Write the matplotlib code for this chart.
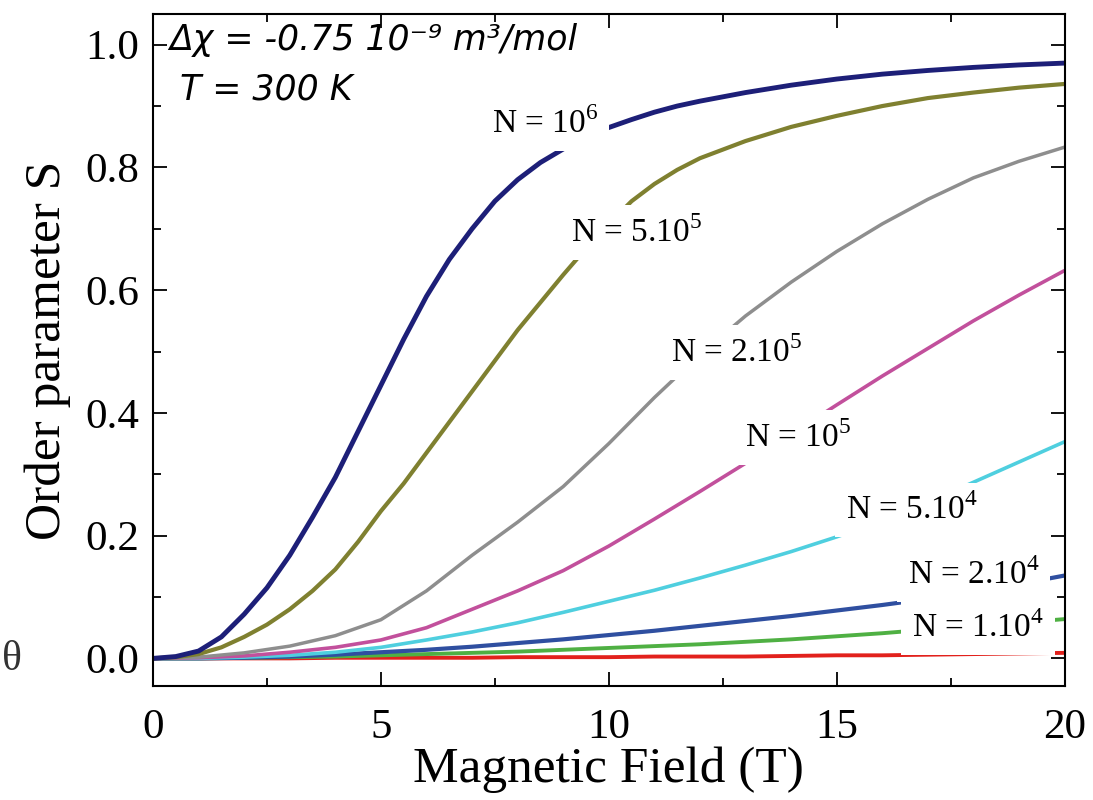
import matplotlib
matplotlib.use("Agg")
import matplotlib.pyplot as plt
from matplotlib.ticker import MultipleLocator, FormatStrFormatter

plt.rcParams['font.family'] = ['Liberation Serif', 'DejaVu Serif']
plt.rcParams['mathtext.fontset'] = 'custom'
plt.rcParams['mathtext.rm'] = 'Liberation Serif'

# Magnetic field (T) and order parameter S
field = [0, 1, 2, 3, 4, 5, 6, 7, 8, 9, 10, 11, 12, 13, 14, 15, 16, 17, 18, 19, 20]
# finer sampling for the two steep curves
field_fine = [0, 0.5, 1, 1.5, 2, 2.5, 3, 3.5, 4, 4.5, 5, 5.5, 6, 6.5, 7, 7.5, 8,
              8.5, 9, 9.5, 10, 10.5, 11, 11.5, 12, 13, 14, 15, 16, 17, 18, 19, 20]

s_1e6 = [0, 0.003, 0.012, 0.035, 0.072, 0.115, 0.168, 0.23, 0.295, 0.37, 0.445,
         0.52, 0.59, 0.65, 0.70, 0.745, 0.78, 0.808, 0.83, 0.85, 0.865, 0.878,
         0.89, 0.90, 0.908, 0.922, 0.934, 0.944, 0.952, 0.958, 0.963, 0.967, 0.970]
s_5e5 = [0, 0.002, 0.007, 0.018, 0.035, 0.055, 0.08, 0.11, 0.145, 0.19, 0.24,
         0.285, 0.335, 0.385, 0.435, 0.485, 0.535, 0.58, 0.625, 0.668, 0.708, 0.745,
         0.773, 0.796, 0.815, 0.843, 0.866, 0.884, 0.90, 0.913, 0.922, 0.930, 0.936]
s_2e5 = [0, 0.002, 0.009, 0.02, 0.037, 0.063, 0.11, 0.168, 0.222, 0.28, 0.35,
         0.425, 0.495, 0.558, 0.613, 0.663, 0.708, 0.748, 0.783, 0.81, 0.833]
s_1e5 = [0, 0.001, 0.004, 0.01, 0.018, 0.03, 0.05, 0.08, 0.11, 0.143, 0.183,
         0.227, 0.272, 0.318, 0.365, 0.413, 0.46, 0.505, 0.55, 0.592, 0.632]
s_5e4 = [0, 0.0, 0.002, 0.005, 0.01, 0.018, 0.03, 0.043, 0.058, 0.075, 0.093,
         0.111, 0.131, 0.152, 0.174, 0.198, 0.224, 0.254, 0.287, 0.32, 0.353]
s_2e4 = [0, 0.0, 0.001, 0.003, 0.006, 0.01, 0.014, 0.019, 0.025, 0.031, 0.038,
         0.045, 0.053, 0.061, 0.069, 0.078, 0.087, 0.097, 0.108, 0.121, 0.135]
s_1e4 = [0, 0.0, 0.001, 0.002, 0.003, 0.005, 0.007, 0.009, 0.011, 0.014, 0.017,
         0.02, 0.023, 0.027, 0.031, 0.036, 0.041, 0.047, 0.052, 0.058, 0.064]
s_5e3 = [0, 0.0, 0.0, 0.0, 0.001, 0.001, 0.001, 0.001, 0.002, 0.002, 0.002,
         0.003, 0.003, 0.003, 0.004, 0.005, 0.005, 0.006, 0.007, 0.008, 0.009]

series = [(field, s_5e3), (field, s_1e4), (field, s_2e4), (field, s_5e4),
          (field, s_1e5), (field, s_2e5), (field_fine, s_5e5), (field_fine, s_1e6)]
colors = ['#e2211c', '#4fb043', '#2f4fa0', '#4fcfdf', '#c2509c', '#8e8e8e', '#7f8030', '#1d1f78']
widths = [2.8, 2.8, 3.0, 2.6, 2.6, 2.5, 3.0, 3.5]

labels = ["N = 10$^{6}$", "N = 5.10$^{5}$", "N = 2.10$^{5}$", "N = 10$^{5}$",
          "N = 5.10$^{4}$", "N = 2.10$^{4}$", "N = 1.10$^{4}$"]
label_x = [8.6, 10.6, 12.8, 14.15, 16.65, 18.0, 18.1]
label_y = [0.871, 0.694, 0.498, 0.36, 0.242, 0.136, 0.05]

fig = plt.figure(figsize=(10.93, 8.0), dpi=100)
ax = fig.add_axes([0.140, 0.1425, 0.834, 0.840])

for (x, s), c, w in zip(series, colors, widths):
    ax.plot(x, s, color=c, lw=w, solid_capstyle='butt')

for txt, x, y in zip(labels, label_x, label_y):
    ax.text(x, y, txt, fontsize=24, ha='center', va='center', zorder=5,
            bbox=dict(facecolor='white', edgecolor='none', pad=8))

ax.text(0.35, 1.035, "Δχ = -0.75 10⁻⁹ m³/mol",
        family='DejaVu Sans', style='italic', fontsize=25, va='top', ha='left')
ax.text(0.6, 0.955, "T = 300 K", family='DejaVu Sans', style='italic',
        fontsize=25, va='top', ha='left')

ax.set_xlim(0, 20)
ax.set_ylim(-0.045, 1.05)
ax.xaxis.set_major_locator(MultipleLocator(5))
ax.xaxis.set_minor_locator(MultipleLocator(2.5))
ax.yaxis.set_major_locator(MultipleLocator(0.2))
ax.yaxis.set_minor_locator(MultipleLocator(0.1))
ax.yaxis.set_major_formatter(FormatStrFormatter('%.1f'))
ax.tick_params(which='both', direction='in', top=True, right=True, width=1.3)
ax.tick_params(which='major', length=10, labelsize=31, pad=10)
ax.tick_params(axis='x', which='major', pad=16)
ax.tick_params(which='minor', length=6)
for sp in ax.spines.values():
    sp.set_linewidth(1.5)

ax.set_xlabel("Magnetic Field (T)", fontsize=37, labelpad=0)
ax.set_ylabel("Order parameter S", fontsize=37, labelpad=10)

fig.text(0.002, 0.175, "θ", fontsize=30, color='#333333', va='center')

fig.savefig("out.png", dpi=100)
